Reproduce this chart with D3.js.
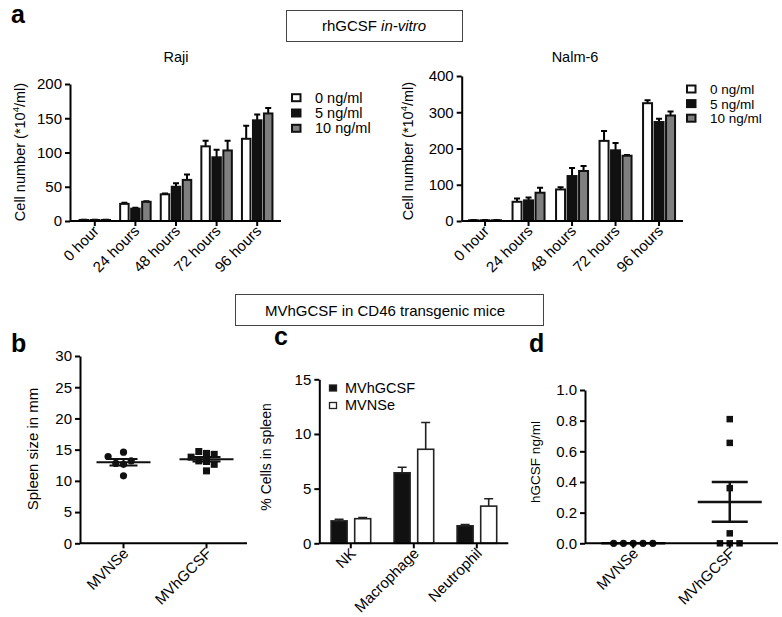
<!DOCTYPE html>
<html><head><meta charset="utf-8">
<script src="https://cdn.jsdelivr.net/npm/d3@7"></script>
<style>
body{margin:0;background:#fff}
svg{font-family:"Liberation Sans",Arial,Helvetica,sans-serif}
</style></head><body>
<svg id="chart" width="782" height="617"></svg>
<script>
// ---------- DATA ----------
const timepoints = ["0 hour", "24 hours", "48 hours", "72 hours", "96 hours"];
const doseLabels = ["0 ng/ml", "5 ng/ml", "10 ng/ml"];

const rajiTicks = [0, 50, 100, 150, 200];
const raji0 = [1.5, 25, 39, 109, 120];
const raji0Err = [0.5, 1.5, 1, 8, 19];
const raji5 = [1.5, 18, 50, 93, 147];
const raji5Err = [0.5, 1.5, 5, 11, 8.5];
const raji10 = [1.5, 28, 60, 103, 157];
const raji10Err = [0.5, 1, 8, 14, 8];

const nalmTicks = [0, 100, 200, 300, 400];
const nalm0 = [2, 53, 87, 221, 325];
const nalm0Err = [0.5, 9, 6, 27, 8];
const nalm5 = [2, 57, 124, 195, 273];
const nalm5Err = [0.5, 8, 22, 20, 9];
const nalm10 = [2, 78, 138, 180, 291];
const nalm10Err = [0.5, 14, 14, 2, 11];

const spleenGroups = ["MVNSe", "MVhGCSF"];
const spleenTicks = [0, 5, 10, 15, 20, 25, 30];
const spleenMVNSe = [14.6, 12.65, 10.8, 12.8, 13.2, 13.9];
const spleenMVhGCSF = [14.4, 13.1, 11.6, 13.2, 14.25, 14.7, 12.65, 13.8];

const cellTypes = ["NK", "Macrophage", "Neutrophil"];
const cellSeries = ["MVhGCSF", "MVNSe"];
const cellTicks = [0, 5, 10, 15];
const pctMVhGCSF = [2.05, 6.45, 1.6];
const pctMVhGCSFErr = [0.15, 0.5, 0.12];
const pctMVNSe = [2.25, 8.6, 3.4];
const pctMVNSeErr = [0.1, 2.45, 0.68];

const hgcsfGroups = ["MVNSe", "MVhGCSF"];
const hgcsfTicks = [0, 0.2, 0.4, 0.6, 0.8, 1.0];
const hgcsfMVNSe = [0, 0, 0, 0, 0];
const hgcsfMVhGCSF = [0.81, 0.655, 0.36, 0.065, 0, 0, 0];

// ---------- HELPERS ----------
const FONT = '"Liberation Sans", Arial, Helvetica, sans-serif';
const svg = d3.select("#chart");
const TICKFS = 15;

function styleAxis(g, fs) {
  g.attr("font-family", FONT).attr("font-size", fs || TICKFS);
  g.select(".domain").attr("stroke", "#000").attr("stroke-width", 2);
  g.selectAll(".tick line").attr("stroke", "#000").attr("stroke-width", 2);
  g.selectAll(".tick text").attr("fill", "#000");
}

function yAxis(x, y, ticks, fmt, fs) {
  const g = svg.append("g").attr("transform", `translate(${x},0)`)
    .call(d3.axisLeft(y).tickValues(ticks).tickSize(5).tickPadding(3).tickSizeOuter(0).tickFormat(fmt || d3.format("d")));
  styleAxis(g, fs);
  return g;
}

function xAxis(yPos, xScale, x0, x1, dx, dy, fs) {
  const g = svg.append("g").attr("transform", `translate(0,${yPos})`)
    .call(d3.axisBottom(xScale).tickSize(5).tickSizeOuter(0));
  styleAxis(g, fs);
  g.select(".domain").attr("d", `M${x0},0H${x1}`);
  g.selectAll(".tick text")
    .attr("x", null).attr("y", null).attr("dy", null)
    .attr("text-anchor", "end")
    .attr("transform", `translate(${dx},${dy}) rotate(-45)`);
  return g;
}

function yLabel(text, x, y, fs) {
  return svg.append("text").attr("transform", `translate(${x},${y}) rotate(-90)`)
    .attr("text-anchor", "middle").attr("font-size", fs).attr("font-family", FONT).text(text);
}

function label(text, x, y, fs, opts = {}) {
  return svg.append("text").attr("x", x).attr("y", y).attr("font-size", fs)
    .attr("font-family", FONT).attr("text-anchor", opts.anchor || "start")
    .attr("font-weight", opts.weight || "normal").text(text);
}

// ---------- PANEL a: grouped bars ----------
const doseFills = ["#ffffff", "#111111", "#7f7f7f"];

function cellPanel(cfg) {
  const y = d3.scaleLinear().domain([0, cfg.yMax]).range([cfg.yBot, cfg.yTop]);
  const x = d3.scaleBand().domain(timepoints).range(cfg.band);
  const g = svg.append("g");
  cfg.series.forEach((vals, si) => {
    const off = (si - 1) * cfg.step;
    const errs = cfg.errs[si];
    g.selectAll(null).data(vals).join("path")
      .attr("d", (v, i) => {
        const cx = x(timepoints[i]) + x.bandwidth() / 2 + off;
        const y0 = y(v), y1 = y(v + errs[i]);
        return `M${cx},${y0}V${y1}M${cx - 3},${y1}H${cx + 3}`;
      })
      .attr("stroke", "#000").attr("stroke-width", 2).attr("fill", "none");
    g.selectAll(null).data(vals).join("rect")
      .attr("x", (v, i) => x(timepoints[i]) + x.bandwidth() / 2 + off - cfg.barW / 2)
      .attr("y", v => y(v))
      .attr("width", cfg.barW)
      .attr("height", v => y(0) - y(v))
      .attr("fill", doseFills[si]).attr("stroke", "#111").attr("stroke-width", 2);
  });
  yAxis(cfg.axisX, y, cfg.ticks);
  xAxis(cfg.yBot, x, cfg.axisX, cfg.axisEnd, 5, 11);
  label(cfg.title, cfg.titleX, 62, 14.5, { anchor: "middle" });
  const yl = svg.append("text").attr("transform", `translate(${cfg.ylX},${cfg.ylY}) rotate(-90)`)
    .attr("text-anchor", "middle").attr("font-size", 14.5).attr("font-family", FONT);
  yl.append("tspan").text("Cell number (*10");
  yl.append("tspan").attr("font-size", 9.5).attr("dy", -6).text("4");
  yl.append("tspan").attr("dy", 6).text("/ml)");
  doseLabels.forEach((d, i) => {
    const cy = cfg.legY + i * cfg.legDy;
    svg.append("rect").attr("x", cfg.legX).attr("y", cy - 3.5).attr("width", 8.5).attr("height", 7)
      .attr("fill", doseFills[i]).attr("stroke", "#111").attr("stroke-width", 2);
    label(d, cfg.legX + 23, cy + 5, cfg.legFs);
  });
}

cellPanel({
  yMax: 200, yTop: 84, yBot: 221, ticks: rajiTicks, band: [74.5, 277.5], step: 11, barW: 8.5,
  axisX: 70, axisEnd: 281, series: [raji0, raji5, raji10], errs: [raji0Err, raji5Err, raji10Err],
  title: "Raji", titleX: 176, ylX: 25, ylY: 152, legX: 292, legY: 97.7, legDy: 15.3, legFs: 14.5
});
cellPanel({
  yMax: 400, yTop: 76, yBot: 221, ticks: nalmTicks, band: [463.3, 680.8], step: 11.5, barW: 9,
  axisX: 461.7, axisEnd: 683, series: [nalm0, nalm5, nalm10], errs: [nalm0Err, nalm5Err, nalm10Err],
  title: "Nalm-6", titleX: 575, ylX: 413, ylY: 151, legX: 687, legY: 89, legDy: 14.6, legFs: 13.5
});

// panel letters + boxes
label("a", 11, 23, 25, { weight: "bold" });
label("b", 11, 352, 25, { weight: "bold" });
label("c", 274, 345, 25, { weight: "bold" });
label("d", 529, 352, 25, { weight: "bold" });

svg.append("rect").attr("x", 286.5).attr("y", 10.5).attr("width", 176).attr("height", 31)
  .attr("fill", "none").attr("stroke", "#444").attr("stroke-width", 1);
const bt = svg.append("text").attr("x", 374).attr("y", 31).attr("text-anchor", "middle")
  .attr("font-size", 15).attr("font-family", FONT);
bt.append("tspan").text("rhGCSF ");
bt.append("tspan").attr("font-style", "italic").text("in-vitro");

svg.append("rect").attr("x", 235.5).attr("y", 294.5).attr("width", 308).attr("height", 31)
  .attr("fill", "none").attr("stroke", "#444").attr("stroke-width", 1);
label("MVhGCSF in CD46 transgenic mice", 385, 316, 15, { anchor: "middle" });

// ---------- dot plot helper ----------
function dodge(values, y, step, thr) {
  const placed = [];
  const order = [0, -1, 1, -2, 2, -3, 3, -4, 4];
  return values.map(v => {
    const py = y(v);
    for (const k of order) {
      const px = k * step;
      if (placed.every(p => Math.hypot(p.px - px, p.py - py) >= thr)) {
        placed.push({ px, py });
        return { v, off: px };
      }
    }
    return { v, off: 0 };
  });
}
function meanSem(a) {
  const m = d3.mean(a);
  const sem = a.length > 1 ? d3.deviation(a) / Math.sqrt(a.length) : 0;
  return { m, sem };
}

function dotPanel(cfg) {
  const y = d3.scaleLinear().domain([0, cfg.yMax]).range([cfg.yBot, cfg.yTop]);
  const x = d3.scaleBand().domain(cfg.groups).range(cfg.band);
  const g = svg.append("g");
  cfg.data.forEach((vals, gi) => {
    const cx = x(cfg.groups[gi]) + x.bandwidth() / 2;
    const pts = dodge(vals, y, cfg.step, cfg.thr);
    const { m, sem } = meanSem(vals);
    const lw = cfg.meanW / 2, sw = cfg.semW / 2;
    let d = `M${cx - lw},${y(m)}H${cx + lw}`;
    if (sem > 0) {
      d += `M${cx - sw},${y(m + sem)}H${cx + sw}M${cx - sw},${y(m - sem)}H${cx + sw}M${cx},${y(m + sem)}V${y(m - sem)}`;
    }
    g.append("path").attr("d", d).attr("stroke", "#111").attr("stroke-width", cfg.lineW).attr("fill", "none");
    if (gi === 0) {
      g.selectAll(null).data(pts).join("circle")
        .attr("cx", p => cx + p.off).attr("cy", p => y(p.v)).attr("r", cfg.r).attr("fill", "#111");
    } else {
      g.selectAll(null).data(pts).join("rect")
        .attr("x", p => cx + p.off - cfg.sq / 2).attr("y", p => y(p.v) - cfg.sq / 2)
        .attr("width", cfg.sq).attr("height", cfg.sq).attr("fill", "#111");
    }
  });
  yAxis(cfg.axisX, y, cfg.ticks, cfg.fmt);
  xAxis(cfg.yBot, x, cfg.axisX, cfg.axisEnd, cfg.lblDx, cfg.lblDy);
}

dotPanel({
  yMax: 30, yTop: 356, yBot: 543.3, ticks: spleenTicks, groups: spleenGroups, band: [82, 248],
  data: [spleenMVNSe, spleenMVhGCSF], step: 7.7, thr: 7.5, r: 3.6, sq: 7,
  meanW: 54, semW: 28, lineW: 2, axisX: 80, axisEnd: 247, lblDx: 6, lblDy: 11
});
yLabel("Spleen size in mm", 38, 449, 15);

dotPanel({
  yMax: 1, yTop: 390, yBot: 543.3, ticks: hgcsfTicks, groups: hgcsfGroups, band: [585, 778],
  data: [hgcsfMVNSe, hgcsfMVhGCSF], step: 9.8, thr: 9, r: 3.6, sq: 6.5, fmt: d3.format(".1f"),
  meanW: 64, semW: 36, lineW: 2.5, axisX: 585, axisEnd: 778, lblDx: 6, lblDy: 11
});
yLabel("hGCSF ng/ml", 540, 462, 13.5);

// ---------- PANEL c ----------
(function () {
  const y = d3.scaleLinear().domain([0, 15]).range([543.3, 379.3]);
  const x = d3.scaleBand().domain(cellTypes).range([319.3, 508.3]);
  const fills = ["#111111", "#ffffff"];
  const series = [pctMVhGCSF, pctMVNSe];
  const errs = [pctMVhGCSFErr, pctMVNSeErr];
  const offs = [-11.7, 11.9];
  const bw = 16;
  const g = svg.append("g");
  series.forEach((vals, si) => {
    g.selectAll(null).data(vals).join("path")
      .attr("d", (v, i) => {
        const cx = x(cellTypes[i]) + x.bandwidth() / 2 + offs[si];
        const y1 = y(v + errs[si][i]);
        return `M${cx},${y(v)}V${y1}M${cx - 4.5},${y1}H${cx + 4.5}`;
      })
      .attr("stroke", "#222").attr("stroke-width", 1.6).attr("fill", "none");
    g.selectAll(null).data(vals).join("rect")
      .attr("x", (v, i) => x(cellTypes[i]) + x.bandwidth() / 2 + offs[si] - bw / 2)
      .attr("y", v => y(v)).attr("width", bw).attr("height", v => y(0) - y(v))
      .attr("fill", fills[si]).attr("stroke", "#222").attr("stroke-width", 1.6);
  });
  yAxis(319.3, y, cellTicks);
  xAxis(543.3, x, 319.3, 508.3, 6, 11);
  yLabel("% Cells in spleen", 270.5, 457, 14);
  cellSeries.forEach((s, i) => {
    const cy = 388 + i * 17.5;
    svg.append("rect").attr("x", 329.5).attr("y", cy - 3).attr("width", 7).attr("height", 6)
      .attr("fill", fills[i]).attr("stroke", "#222").attr("stroke-width", 1.3);
    label(s, 345, cy + 4.5, 14.5);
  });
})();
</script>
</body></html>
